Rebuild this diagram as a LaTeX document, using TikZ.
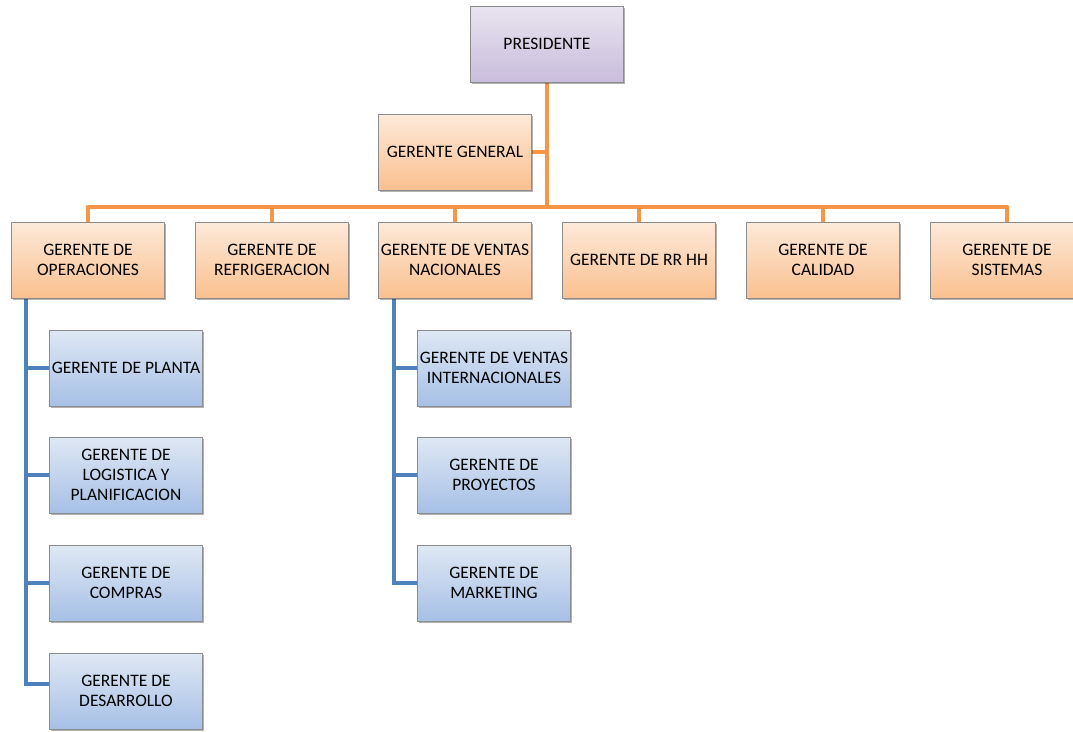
\documentclass[tikz,border=0pt]{standalone}
\usepackage{fontspec}
\setmainfont{Carlito}
\usetikzlibrary{shadows}
\pgfdeclarelayer{bg}
\pgfsetlayers{bg,main}
\definecolor{orline}{HTML}{F79646}
\definecolor{blline}{HTML}{4F81BD}
\definecolor{ortop}{HTML}{FDEADA}
\definecolor{orbot}{HTML}{FAC08F}
\definecolor{putop}{HTML}{E9E4F0}
\definecolor{pubot}{HTML}{C9BDDC}
\definecolor{bltop}{HTML}{DFE8F4}
\definecolor{blbot}{HTML}{A6C0E6}
\definecolor{edge}{HTML}{8C8C8C}
\tikzset{
  box/.style={draw=edge, line width=0.8pt, minimum width=153pt, minimum height=76pt,
    inner sep=0pt, align=center, font=\fontsize{17.5}{20}\selectfont,
    drop shadow={shadow xshift=1.5pt, shadow yshift=-2pt, fill=black, opacity=0.3}},
  obox/.style={box, top color=ortop, bottom color=orbot},
  pbox/.style={box, top color=putop, bottom color=pubot},
  bbox/.style={box, top color=bltop, bottom color=blbot},
  oline/.style={draw=orline, line width=4.5pt},
  bline/.style={draw=blline, line width=4.5pt},
}
\begin{document}
\begin{tikzpicture}[x=1pt, y=-1pt]
\useasboundingbox (0,0) rectangle (1073,731);
\clip (0,0) rectangle (1073,731);
\coordinate (bar) at (547,207);
\coordinate (barL) at (88,207);
\coordinate (barR) at (1007,207);
\coordinate (opsbot) at (26,298);
\coordinate (venbot) at (394,298);

\node[pbox] (pres) at (547,44) {PRESIDENTE};
\node[obox] (gg) at (455,152) {GERENTE GENERAL};

\node[obox] (ops) at (88,260) {GERENTE DE\\OPERACIONES};
\node[obox] (ref) at (272,260) {GERENTE DE\\REFRIGERACION};
\node[obox] (ven) at (455,260) {GERENTE DE VENTAS\\NACIONALES};
\node[obox] (rrhh) at (639,260) {GERENTE DE RR HH};
\node[obox] (cal) at (823,260) {GERENTE DE\\CALIDAD};
\node[obox] (sis) at (1007,260) {GERENTE DE\\SISTEMAS};

\node[bbox] (pla) at (126,368) {GERENTE DE PLANTA};
\node[bbox] (log) at (126,475) {GERENTE DE\\LOGISTICA Y\\PLANIFICACION};
\node[bbox] (com) at (126,583) {GERENTE DE\\COMPRAS};
\node[bbox] (des) at (126,691) {GERENTE DE\\DESARROLLO};

\node[bbox] (vin) at (494,368) {GERENTE DE VENTAS\\INTERNACIONALES};
\node[bbox] (pro) at (494,475) {GERENTE DE\\PROYECTOS};
\node[bbox] (mar) at (494,583) {GERENTE DE\\MARKETING};

\begin{pgfonlayer}{bg}
\draw[oline] (pres.south) -- (bar);
\draw[oline] (gg.east) -- (gg.east -| bar);
\draw[oline, line cap=round] (barL) -- (barR);
\foreach \n in {ops,ref,ven,rrhh,cal,sis}{
  \draw[oline] (\n.north |- bar) -- (\n.north);
}
\coordinate (desb) at ([yshift=7pt]des.west);
\draw[bline] (opsbot) -- (opsbot |- desb) -- (desb);
\foreach \n in {pla,log,com}{
  \draw[bline] (opsbot |- \n.west) -- (\n.west);
}
\draw[bline] (venbot) -- (venbot |- mar.west) -- (mar.west);
\foreach \n in {vin,pro}{
  \draw[bline] (venbot |- \n.west) -- (\n.west);
}
\end{pgfonlayer}
\end{tikzpicture}
\end{document}
